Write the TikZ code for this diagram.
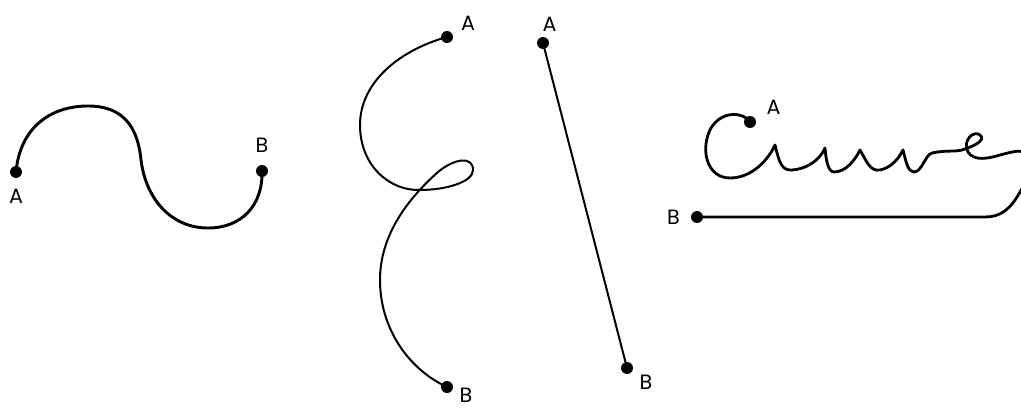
\documentclass[tikz,border=0pt]{standalone}
\usepackage{fontspec}
\newfontfamily\lblfont{Poppins}
\usetikzlibrary{positioning}

\begin{document}
\begin{tikzpicture}[
    x=0.75pt, y=-0.75pt,
    dot/.style={circle, fill=black, inner sep=0pt, minimum size=9pt},
    lbl/.style={font=\lblfont\fontsize{15.5}{17}\selectfont, inner sep=0pt},
    heavy/.style={line width=2.2pt, line cap=round},
    fine/.style={line width=1.5pt, line cap=round},
    script/.style={line width=2.1pt, line cap=round, line join=round}
]
\useasboundingbox (0,0) rectangle (1021,410);

% S-shaped curve
\node[dot] (a1) at (16,172) {};
\node[dot] (b1) at (262,171) {};
\node[lbl, below=8pt of a1] {A};
\node[lbl, above=9pt of b1] {B};
\draw[heavy] (a1.center) .. controls (20,128) and (50,106) .. (88,106)
    .. controls (124,106) and (138,128) .. (141,160)
    .. controls (146,200) and (172,228) .. (208,228)
    .. controls (242,228) and (263,205) .. (b1.center);

% curve with a loop
\node[dot] (a2) at (447,37) {};
\node[dot] (b2) at (447,387) {};
\node[lbl, above right=1pt and 7pt of a2] {A};
\node[lbl, below right=-2.5pt and 6pt of b2] {B};
\draw[fine] (a2.center) .. controls (400,50) and (360,82) .. (360,125)
    .. controls (360,166) and (390,191) .. (420,190)
    .. controls (446,190) and (473,182) .. (473,170)
    .. controls (473,156) and (455,158) .. (438,172)
    .. controls (402,204) and (380,240) .. (380,280)
    .. controls (380,330) and (410,370) .. (b2.center);

% straight line
\node[dot] (a3) at (543,43) {};
\node[dot] (b3) at (627,368) {};
\node[lbl, above=4pt of a3, xshift=5pt] {A};
\node[lbl, below right=2pt and 6pt of b3] {B};
\draw[fine] (a3) -- (b3);

% written word
\node[dot] (a4) at (750,122) {};
\node[dot] (b4) at (697,217) {};
\node[lbl, above right=2pt and 9pt of a4] {A};
\node[lbl, left=8pt of b4] {B};
\draw[script] (a4.center) .. controls (744,112) and (722,110) .. (711,128)
    .. controls (700,148) and (706,178) .. (730,178)
    .. controls (752,178) and (768,160) .. (775,145)
    .. controls (778,156) and (780,170) .. (790,170)
    .. controls (806,170) and (820,160) .. (825,148)
    .. controls (826,160) and (828,172) .. (834,172)
    .. controls (846,172) and (855,160) .. (860,150)
    .. controls (866,160) and (870,172) .. (880,170)
    .. controls (890,168) and (898,160) .. (903,150)
    .. controls (906,162) and (908,172) .. (914,172)
    .. controls (922,172) and (925,155) .. (932,153)
    .. controls (945,150) and (955,152) .. (962,150)
    .. controls (975,146) and (986,140) .. (980,135)
    .. controls (974,130) and (962,140) .. (968,152)
    .. controls (974,162) and (990,158) .. (1000,155)
    .. controls (1012,152) and (1018,150) .. (1024,152)
    .. controls (1034,156) and (1030,176) .. (1020,192)
    .. controls (1010,210) and (1000,217) .. (985,217)
    -- (b4.center);
\end{tikzpicture}
\end{document}
